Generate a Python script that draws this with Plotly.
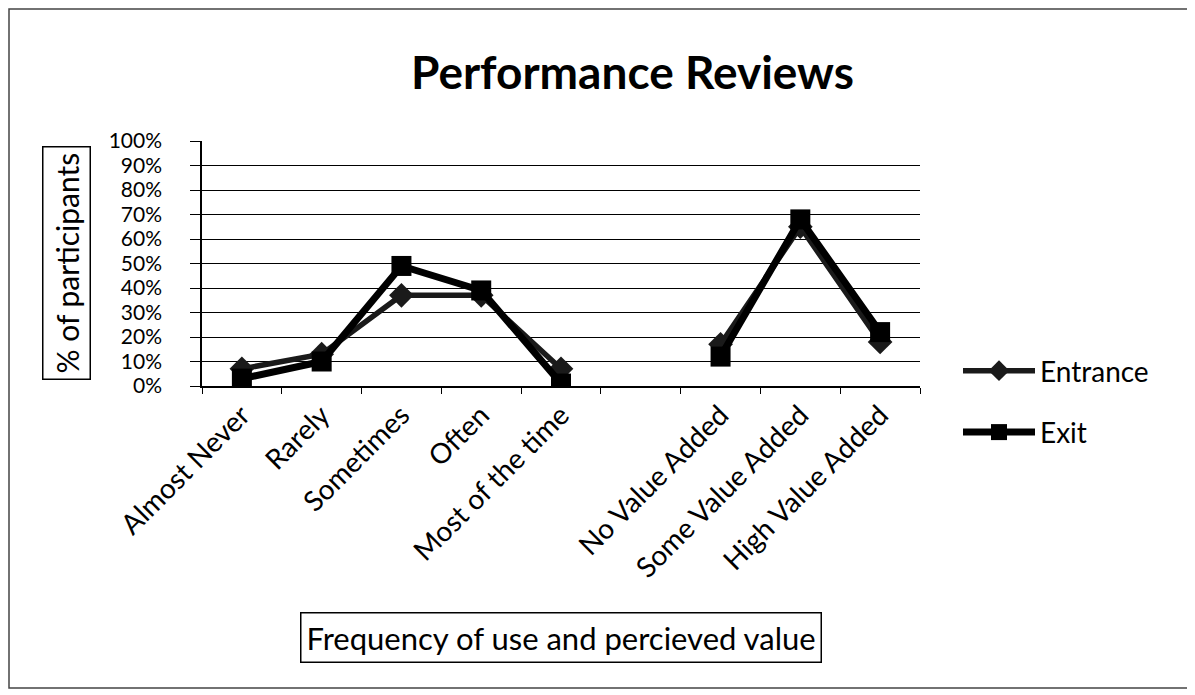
import plotly.graph_objects as go

categories = ["Almost Never", "Rarely", "Sometimes", "Often", "Most of the time",
              " ", "No Value Added", "Some Value Added", "High Value Added"]
entrance = [0.07, 0.13, 0.37, 0.37, 0.07, None, 0.17, 0.65, 0.18]
exit_vals = [0.03, 0.10, 0.49, 0.39, 0.01, None, 0.12, 0.68, 0.22]
y_ticks = [i / 10 for i in range(11)]

W, H = 1195, 695
OX, OY = 8, 8  # page body offset
L, R, T, B = 202, 920, 141, 386  # plot area in page pixels

FONT = "Lato"

fig = go.Figure()
fig.add_trace(go.Scatter(
    x=categories, y=entrance, name="Entrance", mode="lines+markers",
    line=dict(color="#1a1a1a", width=5.5),
    marker=dict(symbol="diamond", size=19, color="#1a1a1a"),
    legendgroup="a"))
fig.add_trace(go.Scatter(
    x=categories, y=exit_vals, name="Exit", mode="lines+markers",
    line=dict(color="#000000", width=7),
    marker=dict(symbol="square", size=20, color="#000000"),
    legendgroup="b"))

def px(x):
    return (x - L) / (R - L)

def py(y):
    return (B - y) / (B - T)

fig.update_layout(
    width=W - OX, height=H - OY,
    margin=dict(l=L - OX, r=W - R, t=T - OY, b=H - B, autoexpand=False),
    paper_bgcolor="white", plot_bgcolor="white",
    font=dict(family=FONT, color="#000", size=22),
    showlegend=True,
    legend=dict(x=px(958), y=py(346), xanchor="left", yanchor="top",
                font=dict(size=28, family=FONT), tracegroupgap=22,
                itemwidth=72, bgcolor="rgba(0,0,0,0)"),
    xaxis=dict(type="category", categoryorder="array", categoryarray=categories,
               range=[-0.5, len(categories) - 0.5],
               showline=True, linecolor="#000", linewidth=1.5,
               ticks="outside", tickson="boundaries", ticklen=6, tickcolor="#000",
               tickangle=-45, tickfont=dict(size=28, family=FONT),
               showgrid=False, zeroline=False),
    yaxis=dict(range=[0, 1], tickvals=y_ticks, tickformat=".0%",
               showline=True, linecolor="#000", linewidth=1.5,
               ticks="outside", ticklen=10, tickcolor="#000",
               ticklabelstandoff=24,
               tickfont=dict(size=21, family=FONT),
               showgrid=True, gridcolor="#000", gridwidth=1, zeroline=False),
)

fig.add_annotation(text="<b>Performance Reviews</b>", xref="paper", yref="paper",
                   x=px(632), y=py(72), xanchor="center", yanchor="middle",
                   showarrow=False,
                   font=dict(size=46, family=FONT, color="#000"))

fig.add_annotation(text="% of participants", xref="paper", yref="paper",
                   x=px(66), y=py(263), xanchor="center", yanchor="middle",
                   showarrow=False, textangle=-90,
                   font=dict(size=30, family=FONT, color="#000"),
                   bordercolor="#000", borderwidth=1.5, borderpad=5,
                   bgcolor="white")

fig.add_annotation(text="Frequency of use and percieved value", xref="paper", yref="paper",
                   x=px(561), y=py(637), xanchor="center", yanchor="middle",
                   showarrow=False,
                   font=dict(size=31, family=FONT, color="#000"),
                   bordercolor="#000", borderwidth=1.5, borderpad=5,
                   bgcolor="white")

fig.add_shape(type="rect", xref="paper", yref="paper",
              x0=px(9), x1=px(1188), y0=py(688), y1=py(9),
              line=dict(color="#444", width=1.5), layer="below")

fig.write_html("out.html")
